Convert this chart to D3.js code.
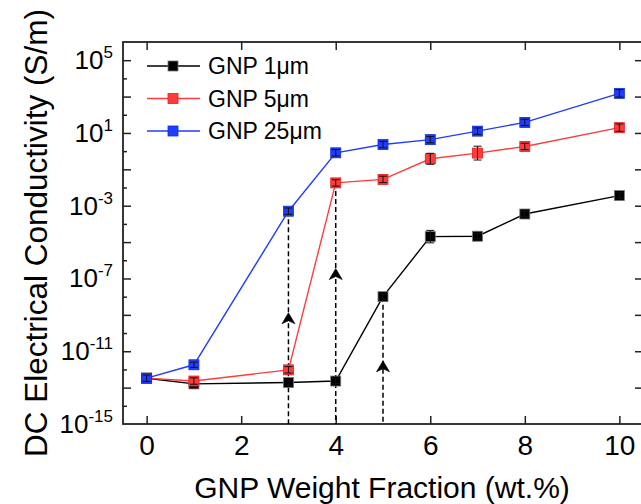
<!DOCTYPE html>
<html>
<head>
<meta charset="utf-8">
<script src="https://cdn.jsdelivr.net/npm/d3@7"></script>
<style>
  body { margin: 0; background: #fff; }
  svg { display: block; font-family: "Liberation Sans", Arial, sans-serif; }
</style>
</head>
<body>
<div id="chart"></div>
<script>
// DC conductivity vs GNP weight fraction, log y axis

// data
var fractions = [0, 1, 3, 4, 5, 6, 7, 8, 10];
var seriesNames = ["GNP 1\u03bcm", "GNP 5\u03bcm", "GNP 25\u03bcm"];
var gnp1 = [3.3e-13, 1.6e-13, 1.9e-13, 2.3e-13, 1.0e-8, 2.0e-5, 2.1e-5, 3.5e-4, 3.6e-3];
var gnp5 = [3.3e-13, 2.3e-13, 9.5e-13, 1.8e-2, 2.8e-2, 0.38, 0.78, 1.8, 19.5];
var gnp25 = [3.3e-13, 1.8e-12, 5.0e-4, 0.81, 2.3, 4.3, 12.6, 38, 1500];
// error bars as multiplicative factors
var err1 = [1.4, 1.6, 1.4, 1.4, 1.4, 2.2, 1.4, 1.4, 1.4];
var err5 = [1.5, 1.5, 1.5, 1.5, 1.5, 2.0, 2.4, 1.5, 1.6];
var err25 = [1.5, 1.4, 1.5, 1.5, 1.5, 1.5, 1.5, 1.5, 1.6];
// percolation markers: x, top of dashed line, arrow tip
var dropX = [3, 4, 5];
var dropTop = [5.0e-4, 1.8e-2, 1.0e-8];
var arrowAt = [1.3e-9, 3.5e-7, 3.0e-12];
// ticks
var xTicks = [0, 2, 4, 6, 8, 10];
var yMajor = [1e5, 1e3, 1e1, 1e-1, 1e-3, 1e-5, 1e-7, 1e-9, 1e-11, 1e-13];
var yMinor = [1e4, 1e2, 1e0, 1e-2, 1e-4, 1e-6, 1e-8, 1e-10, 1e-12, 1e-14];
var yLabelExp = [5, 1, -3, -7, -11, -15];

var Width = 641;
var Height = 504;
var Left = 123, Right = 643, Top = 42, Bottom = 424;
var colors = ["#000000", "#ff3b3b", "#1f3cff"];
var markerStroke = ["#777777", "#e02020", "#1030d0"];

var svg = d3.select("#chart").append("svg")
    .attr("width", Width)
    .attr("height", Height);

var x = d3.scaleLinear().domain([-0.5, 10.5]).range([Left, Right]);
var y = d3.scaleLog().domain([1e-15, 1e6]).range([Bottom, Top]);

// axes
function tickStyle(g) {
    g.select(".domain").remove();
    g.selectAll(".tick line").attr("stroke", "#222").attr("stroke-width", 1.5);
}

svg.append("g")
    .attr("transform", "translate(" + Left + ",0)")
    .call(d3.axisLeft(y).tickValues(yMajor).tickSizeInner(-8).tickSizeOuter(0).tickFormat(""))
    .call(tickStyle);
svg.append("g")
    .attr("transform", "translate(" + Left + ",0)")
    .call(d3.axisLeft(y).tickValues(yMinor).tickSizeInner(-4).tickSizeOuter(0).tickFormat(""))
    .call(tickStyle);
svg.append("g")
    .attr("transform", "translate(" + Right + ",0)")
    .call(d3.axisRight(y).tickValues(yMajor).tickSizeInner(-8).tickSizeOuter(0).tickFormat(""))
    .call(tickStyle);

svg.append("g")
    .attr("transform", "translate(0," + Top + ")")
    .call(d3.axisTop(x).tickValues(xTicks).tickSizeInner(-8).tickSizeOuter(0).tickFormat(""))
    .call(tickStyle);

var xAxis = svg.append("g")
    .attr("transform", "translate(0," + Bottom + ")")
    .call(d3.axisBottom(x).tickValues(xTicks).tickSizeInner(-8).tickSizeOuter(0).tickPadding(11))
    .call(tickStyle);
xAxis.selectAll(".tick text")
    .attr("font-family", "Liberation Sans, Arial, sans-serif")
    .attr("font-size", "28px")
    .attr("fill", "#000");

// y tick labels 10^n
var yLab = svg.append("g");
yLabelExp.forEach(function(e) {
    var t = yLab.append("text")
        .attr("x", 113)
        .attr("y", y(Math.pow(10, e)) + 9)
        .attr("text-anchor", "end")
        .attr("font-size", "26px")
        .attr("fill", "#000");
    t.append("tspan").text("10");
    t.append("tspan").attr("dy", -11).attr("font-size", "17px").text(e < 0 ? "-" + (-e) : e);
});

// frame
svg.append("rect")
    .attr("x", Left).attr("y", Top)
    .attr("width", Right - Left).attr("height", Bottom - Top)
    .attr("fill", "none")
    .attr("stroke", "#222")
    .attr("stroke-width", 1.8);

// dashed drop lines with arrows
dropX.forEach(function(d, i) {
    svg.append("line")
        .attr("x1", x(d)).attr("x2", x(d))
        .attr("y1", y(dropTop[i])).attr("y2", Bottom)
        .attr("stroke", "#000")
        .attr("stroke-width", 1.5)
        .attr("stroke-dasharray", "5,3");
    svg.append("path")
        .attr("transform", "translate(" + x(d) + "," + y(arrowAt[i]) + ")")
        .attr("d", "M0,0 L6.5,11 L0,8 L-6.5,11 Z")
        .attr("fill", "#000")
        .attr("stroke", "#000")
        .attr("stroke-width", 0.6)
        .attr("stroke-linejoin", "round");
});

// series
var allSeries = [gnp1, gnp5, gnp25];
var allErr = [err1, err5, err25];
var line = d3.line()
    .x(function(d) { return x(d[0]); })
    .y(function(d) { return y(d[1]); });

allSeries.forEach(function(vals, s) {
    var pts = fractions.map(function(f, i) { return [f, vals[i], allErr[s][i]]; });
    var g = svg.append("g");

    g.append("path")
        .datum(pts)
        .attr("d", line)
        .attr("fill", "none")
        .attr("stroke", colors[s])
        .attr("stroke-width", 1.4);

    g.selectAll("rect")
        .data(pts)
        .enter()
        .append("rect")
        .attr("x", function(d) { return x(d[0]) - 5; })
        .attr("y", function(d) { return y(d[1]) - 5; })
        .attr("width", 10)
        .attr("height", 10)
        .attr("fill", colors[s])
        .attr("stroke", markerStroke[s])
        .attr("stroke-width", 0.8);

    // error bars
    var eb = g.selectAll(".eb")
        .data(pts)
        .enter()
        .append("g")
        .attr("stroke", "#111")
        .attr("stroke-width", 1);
    eb.append("line")
        .attr("x1", function(d) { return x(d[0]); })
        .attr("x2", function(d) { return x(d[0]); })
        .attr("y1", function(d) { return y(d[1] * d[2]); })
        .attr("y2", function(d) { return y(d[1] / d[2]); });
    eb.append("line")
        .attr("x1", function(d) { return x(d[0]) - 4; })
        .attr("x2", function(d) { return x(d[0]) + 4; })
        .attr("y1", function(d) { return y(d[1] * d[2]); })
        .attr("y2", function(d) { return y(d[1] * d[2]); });
    eb.append("line")
        .attr("x1", function(d) { return x(d[0]) - 4; })
        .attr("x2", function(d) { return x(d[0]) + 4; })
        .attr("y1", function(d) { return y(d[1] / d[2]); })
        .attr("y2", function(d) { return y(d[1] / d[2]); });
});

// legend
var legend = svg.append("g");
seriesNames.forEach(function(name, i) {
    var ly = 66 + i * 32.5;
    legend.append("line")
        .attr("x1", 147).attr("x2", 200)
        .attr("y1", ly).attr("y2", ly)
        .attr("stroke", colors[i])
        .attr("stroke-width", 1.4);
    legend.append("rect")
        .attr("x", 168).attr("y", ly - 5)
        .attr("width", 10).attr("height", 10)
        .attr("fill", colors[i])
        .attr("stroke", markerStroke[i])
        .attr("stroke-width", 0.8);
    legend.append("text")
        .attr("x", 208)
        .attr("y", ly + 8)
        .attr("font-size", "23px")
        .attr("fill", "#000")
        .text(name);
});

// axis titles
svg.append("text")
    .attr("transform", "translate(47,233) rotate(-90)")
    .attr("text-anchor", "middle")
    .attr("font-size", "31.5px")
    .attr("fill", "#000")
    .text("DC Electrical Conductivity (S/m)");

svg.append("text")
    .attr("x", 382)
    .attr("y", 498)
    .attr("text-anchor", "middle")
    .attr("font-size", "30px")
    .attr("fill", "#000")
    .text("GNP Weight Fraction (wt.%)");
</script>
</body>
</html>
